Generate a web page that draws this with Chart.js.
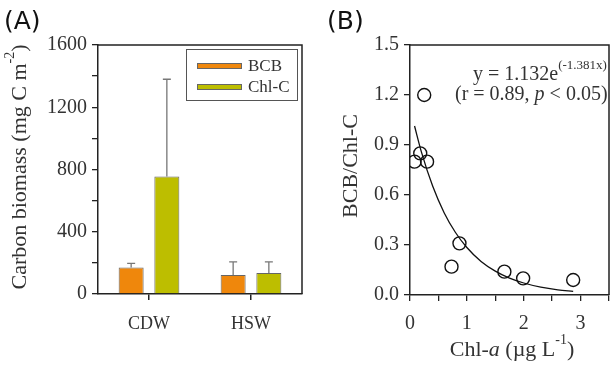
<!DOCTYPE html>
<html><head><meta charset="utf-8">
<script src="https://cdn.jsdelivr.net/npm/chart.js@4/dist/chart.umd.min.js"></script>
<style>
html,body{margin:0;padding:0;background:#fff;overflow:hidden;width:612px;height:365px;}
#wrap{position:relative;width:612px;height:365px;overflow:hidden;}
canvas{position:absolute;top:0;}
#ca{left:0;}
#cb{left:310px;}
</style></head>
<body><div id="wrap"><canvas id="ca" width="310" height="365"></canvas><canvas id="cb" width="310" height="365"></canvas></div>
<script>
// ---- Panel A data ----
const categories = ['CDW', 'HSW'];
const seriesLabels = ['BCB', 'Chl-C'];
const bcbValues = [170, 122];
const bcbErrors = [27, 85];
const chlcValues = [755, 135];
const chlcErrors = [625, 72];
// ---- Panel B data ----
const chlA = [0.08, 0.18, 0.25, 0.30, 0.73, 0.87, 1.66, 1.99, 2.87];
const ratio = [0.80, 0.85, 1.20, 0.80, 0.17, 0.31, 0.14, 0.10, 0.09];
const fitX = [0.08, 0.2, 0.4, 0.6, 0.8, 1.0, 1.25, 1.5, 1.75, 2.0, 2.3, 2.6, 2.87];
const fitY = [1.014, 0.859, 0.652, 0.494, 0.375, 0.285, 0.201, 0.143, 0.101, 0.072, 0.047, 0.031, 0.022];

const SERIF = '"Liberation Serif", "Times New Roman", serif';
const SANS = '"DejaVu Sans", sans-serif';
const AXIS = '#222';
const TXT = '#333';

function font(seg, base) {
  const size = seg.sup ? Math.round(base * 0.63) : base;
  return (seg.it ? 'italic ' : '') + size + 'px ' + SERIF;
}
function richWidth(ctx, segs, base) {
  let w = 0;
  segs.forEach(s => { ctx.font = font(s, base); w += ctx.measureText(s.t).width; });
  return w;
}
function drawRich(ctx, segs, x, y, base, align, rotate) {
  ctx.save();
  ctx.translate(x, y);
  if (rotate) ctx.rotate(-Math.PI / 2);
  const w = richWidth(ctx, segs, base);
  let cx = align === 'center' ? -w / 2 : 0;
  ctx.textBaseline = 'alphabetic';
  ctx.textAlign = 'left';
  ctx.fillStyle = TXT;
  segs.forEach(s => {
    ctx.font = font(s, base);
    ctx.fillText(s.t, cx, s.sup ? -base * 0.55 : 0);
    cx += ctx.measureText(s.t).width;
  });
  ctx.restore();
}

const boxPlugin = {
  id: 'box',
  afterDatasetsDraw(chart) {
    const {ctx, chartArea: a} = chart;
    ctx.save();
    ctx.strokeStyle = AXIS; ctx.lineWidth = 1.5;
    ctx.beginPath();
    ctx.moveTo(a.left, a.top); ctx.lineTo(a.right, a.top); ctx.lineTo(a.right, a.bottom);
    ctx.stroke();
    ctx.restore();
  }
};

const NUMFONT = {family: SERIF, size: 20};

// ---------------- Panel A ----------------
const errPlugin = {
  id: 'err',
  beforeDatasetsDraw(chart) {
    const {ctx} = chart;
    const ys = chart.scales.y;
    const errs = [bcbErrors, chlcErrors];
    ctx.save();
    ctx.strokeStyle = '#777'; ctx.lineWidth = 1.3;
    chart.data.datasets.forEach((ds, i) => {
      const meta = chart.getDatasetMeta(i);
      meta.data.forEach((el, j) => {
        const top = ys.getPixelForValue(ds.data[j] + errs[i][j]);
        ctx.beginPath();
        ctx.moveTo(el.x, el.y); ctx.lineTo(el.x, top);
        ctx.moveTo(el.x - 4, top); ctx.lineTo(el.x + 4, top);
        ctx.stroke();
      });
    });
    ctx.restore();
  },
  afterDraw(chart) {
    const {ctx} = chart;
    // legend box
    ctx.save();
    ctx.strokeStyle = '#555'; ctx.lineWidth = 1;
    ctx.strokeRect(186.5, 49.5, 111, 51);
    chart.data.datasets.forEach((ds, i) => {
      const y = 66 + i * 21;
      ctx.fillStyle = ds.backgroundColor;
      ctx.strokeStyle = '#666';
      ctx.fillRect(197, y - 3, 45, 6);
      ctx.strokeRect(197.5, y - 2.5, 44, 5);
      ctx.fillStyle = TXT;
      ctx.font = '17px ' + SERIF;
      ctx.textBaseline = 'alphabetic';
      ctx.fillText(ds.label, 248, y + 5);
    });
    ctx.restore();
    // y title
    drawRich(ctx, [{t: 'Carbon biomass (mg C m'}, {t: '-2', sup: true}, {t: ')'}], 26, 167, 22, 'center', true);
    // panel label
    ctx.save();
    ctx.fillStyle = '#111';
    ctx.font = '25px ' + SANS;
    ctx.textBaseline = 'alphabetic';
    ctx.fillText('(A)', 4, 29);
    ctx.restore();
  }
};

new Chart(document.getElementById('ca'), {
  type: 'bar',
  data: {
    labels: categories,
    datasets: [
      {label: seriesLabels[0], data: bcbValues, backgroundColor: '#EF870C', borderColor: '#666', borderWidth: 1},
      {label: seriesLabels[1], data: chlcValues, backgroundColor: '#BDBE00', borderColor: '#666', borderWidth: 1}
    ]
  },
  options: {
    responsive: false, animation: false, devicePixelRatio: 1,
    layout: {padding: {left: 0, top: 45, right: 8, bottom: 0}},
    plugins: {legend: {display: false}, tooltip: {enabled: false}},
    datasets: {bar: {categoryPercentage: 0.70, barPercentage: 0.70}},
    scales: {
      x: {
        grid: {display: true, drawOnChartArea: false, drawTicks: true, tickLength: 6, color: AXIS, lineWidth: 1.5, offset: false},
        border: {display: true, color: AXIS, width: 1.5},
        ticks: {font: {family: SERIF, size: 18}, color: TXT, padding: 13},
        afterFit(s) { s.height = 71; }
      },
      y: {
        min: 0, max: 1600,
        grid: {display: true, drawOnChartArea: false, drawTicks: true, tickLength: 6, color: AXIS, lineWidth: 1.3},
        border: {display: true, color: AXIS, width: 1.5},
        ticks: {stepSize: 200, font: NUMFONT, color: TXT, padding: 5,
          callback: v => (v % 400 === 0 ? String(v) : '')},
        afterFit(s) { s.width = 98; }
      }
    }
  },
  plugins: [errPlugin, boxPlugin]
});

// ---------------- Panel B ----------------
const annoPlugin = {
  id: 'anno',
  afterDraw(chart) {
    const {ctx} = chart;
    drawRich(ctx, [{t: 'y = 1.132e'}, {t: '(-1.381x)', sup: true}], 163, 80, 20, 'left', false);
    drawRich(ctx, [{t: '(r = 0.89, '}, {t: 'p', it: true}, {t: ' < 0.05)'}], 145, 100, 20, 'left', false);
    drawRich(ctx, [{t: 'BCB/Chl-C'}], 47, 166, 22, 'center', true);
    drawRich(ctx, [{t: 'Chl-'}, {t: 'a', it: true}, {t: ' (\u00b5g L'}, {t: '-1', sup: true}, {t: ')'}], 202, 356, 22, 'center', false);
    ctx.save();
    ctx.fillStyle = '#111';
    ctx.font = '25px ' + SANS;
    ctx.fillText('(B)', 17, 29);
    ctx.restore();
  }
};

new Chart(document.getElementById('cb'), {
  type: 'scatter',
  data: {
    datasets: [
      {label: 'BCB/Chl-C', data: chlA.map((x, i) => ({x, y: ratio[i]})),
        pointRadius: 6.5, pointBackgroundColor: 'rgba(255,255,255,0)', pointBorderColor: '#111', pointBorderWidth: 1.4, showLine: false},
      {label: 'fit', type: 'line', data: fitX.map((x, i) => ({x, y: fitY[i]})),
        borderColor: '#111', borderWidth: 1.3, pointRadius: 0, fill: false, cubicInterpolationMode: 'monotone'}
    ]
  },
  options: {
    responsive: false, animation: false, devicePixelRatio: 1,
    layout: {padding: {left: 0, top: 45, right: 6, bottom: 0}},
    plugins: {legend: {display: false}, tooltip: {enabled: false}},
    scales: {
      x: {
        type: 'linear', min: 0, max: 3.5,
        grid: {display: true, drawOnChartArea: false, drawTicks: true, tickLength: 6, color: AXIS, lineWidth: 1.3},
        border: {display: true, color: AXIS, width: 1.5},
        ticks: {stepSize: 0.5, font: NUMFONT, color: TXT, padding: 11,
          callback: v => (Number.isInteger(v) ? String(v) : '')},
        afterFit(s) { s.height = 70; }
      },
      y: {
        min: 0, max: 1.5,
        grid: {display: true, drawOnChartArea: false, drawTicks: true, tickLength: 6, color: AXIS, lineWidth: 1.3},
        border: {display: true, color: AXIS, width: 1.5},
        ticks: {stepSize: 0.15, font: NUMFONT, color: TXT, padding: 5,
          callback: (v, i) => (i % 2 === 0 ? (i * 0.15).toFixed(1) : '')},
        afterFit(s) { s.width = 100; }
      }
    }
  },
  plugins: [boxPlugin, annoPlugin]
});
</script>
</body></html>
